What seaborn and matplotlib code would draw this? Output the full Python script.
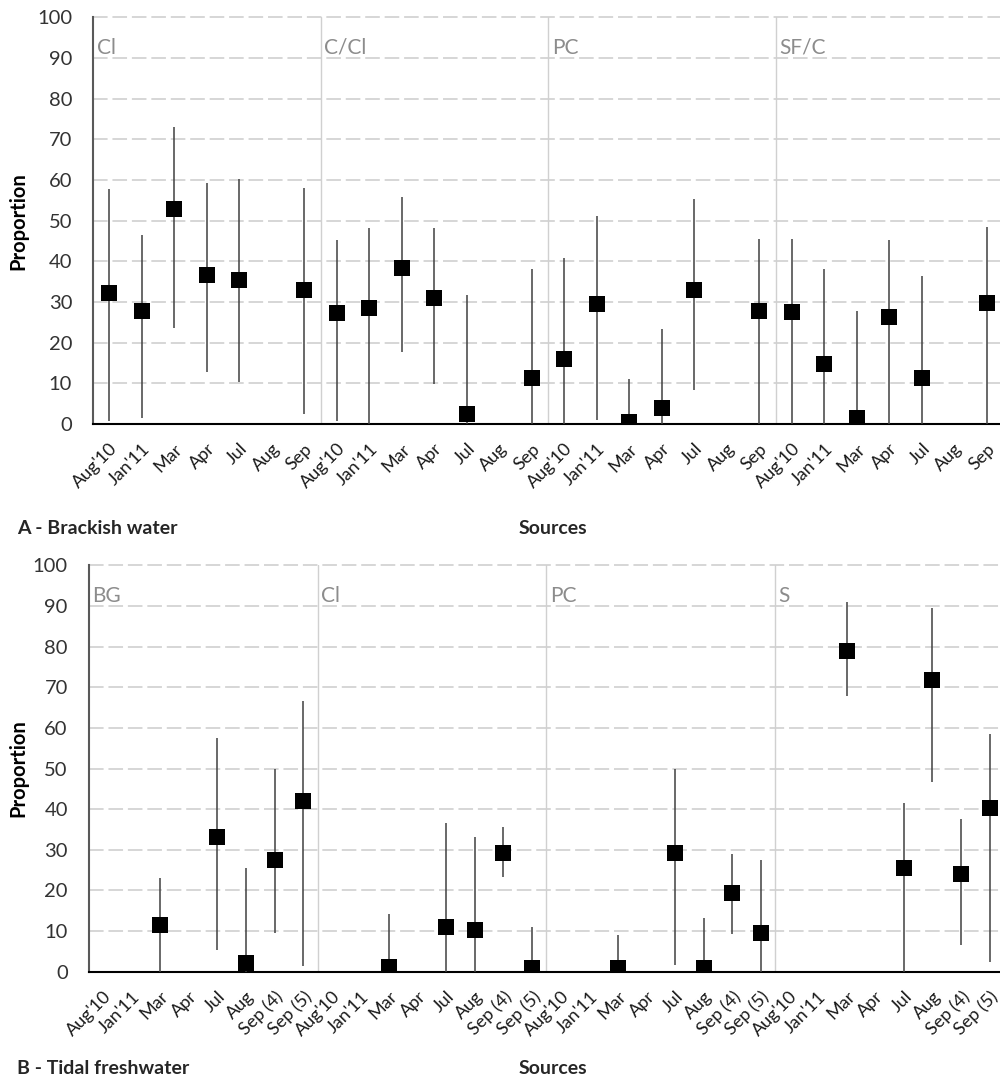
import numpy as np
import pandas as pd
import matplotlib
matplotlib.use("Agg")
import matplotlib.pyplot as plt
import seaborn as sns

sns.set_style("white")
plt.rcParams["font.family"] = ["Lato", "DejaVu Sans"]

nan = np.nan

# ---- Panel A: brackish water ----
months_a = ["Aug'10", "Jan'11", "Mar", "Apr", "Jul", "Aug", "Sep"]
sources_a = ["Cl", "C/Cl", "PC", "SF/C"]

mean_a_cl = [32.3, 27.9, 52.8, 36.6, 35.4, nan, 33.0]
low_a_cl = [0.7, 1.4, 23.5, 12.7, 10.4, nan, 2.5]
high_a_cl = [57.8, 46.4, 73.1, 59.3, 60.2, nan, 58.1]

mean_a_ccl = [27.2, 28.4, 38.3, 30.9, 2.4, nan, 11.4]
low_a_ccl = [0.7, 0.0, 17.6, 9.8, 0.0, nan, 0.0]
high_a_ccl = [45.2, 48.2, 55.7, 48.2, 31.8, nan, 38.0]

mean_a_pc = [16.1, 29.4, 0.6, 3.9, 33.0, nan, 27.8]
low_a_pc = [0.0, 1.0, 0.0, 0.0, 8.4, nan, 0.0]
high_a_pc = [40.7, 51.1, 11.1, 23.4, 55.4, nan, 45.5]

mean_a_sfc = [27.5, 14.7, 1.4, 26.4, 11.4, nan, 29.7]
low_a_sfc = [0.0, 0.0, 0.0, 0.0, 0.0, nan, 0.0]
high_a_sfc = [45.5, 38.0, 27.9, 45.2, 36.5, nan, 48.5]

# ---- Panel B: tidal freshwater ----
months_b = ["Aug'10", "Jan'11", "Mar", "Apr", "Jul", "Aug", "Sep (4)", "Sep (5)"]
sources_b = ["BG", "Cl", "PC", "S"]

mean_b_bg = [nan, nan, 11.4, nan, 33.2, 2.1, 27.6, 41.9]
low_b_bg = [nan, nan, 0.0, nan, 5.3, 0.0, 9.4, 1.4]
high_b_bg = [nan, nan, 23.1, nan, 57.6, 25.5, 49.8, 66.6]

mean_b_cl = [nan, nan, 1.2, nan, 11.1, 10.3, 29.1, 0.9]
low_b_cl = [nan, nan, 0.0, nan, 0.0, 0.0, 23.2, 0.0]
high_b_cl = [nan, nan, 14.1, nan, 36.7, 33.1, 35.5, 10.9]

mean_b_pc = [nan, nan, 0.9, nan, 29.1, 0.8, 19.3, 9.6]
low_b_pc = [nan, nan, 0.0, nan, 1.6, 0.0, 9.2, 0.0]
high_b_pc = [nan, nan, 9.0, nan, 49.9, 13.3, 28.9, 27.6]

mean_b_s = [nan, nan, 78.8, nan, 25.4, 71.9, 24.0, 40.4]
low_b_s = [nan, nan, 67.9, nan, 0.0, 46.8, 6.6, 2.3]
high_b_s = [nan, nan, 90.9, nan, 41.4, 89.4, 37.5, 58.5]

y_ticks = [0, 10, 20, 30, 40, 50, 60, 70, 80, 90, 100]


def build_frame(sources, months, means, lows, highs):
    rows = []
    n = len(months)
    for g, src in enumerate(sources):
        for k, m in enumerate(months):
            rows.append({"source": src, "month": m, "pos": g * n + k + 0.5,
                         "value": means[g][k], "low": lows[g][k], "high": highs[g][k]})
    return pd.DataFrame(rows)


df_a = build_frame(sources_a, months_a,
                   [mean_a_cl, mean_a_ccl, mean_a_pc, mean_a_sfc],
                   [low_a_cl, low_a_ccl, low_a_pc, low_a_sfc],
                   [high_a_cl, high_a_ccl, high_a_pc, high_a_sfc])
df_b = build_frame(sources_b, months_b,
                   [mean_b_bg, mean_b_cl, mean_b_pc, mean_b_s],
                   [low_b_bg, low_b_cl, low_b_pc, low_b_s],
                   [high_b_bg, high_b_cl, high_b_pc, high_b_s])

fig = plt.figure(figsize=(10, 10.88), dpi=100)
ax_a = fig.add_axes([0.093, 0.6103, 0.910, 0.3738])
ax_b = fig.add_axes([0.0887, 0.1069, 0.9153, 0.3735])


def draw_panel(ax, df, sources, months):
    n = len(months)
    total = n * len(sources)
    ok = df.dropna(subset=["value"])
    ax.vlines(ok["pos"], ok["low"], ok["high"], color="#404040", lw=1.1, zorder=3)
    sns.scatterplot(data=ok, x="pos", y="value", marker="s", color="black",
                    s=120, linewidth=0, ax=ax, zorder=4, legend=False)
    ax.set_xlim(0, total)
    ax.set_ylim(0, 100)
    ax.set_yticks(y_ticks)
    ax.yaxis.grid(True, color="#d6d6d6", lw=1.4, linestyle=(0, (7.5, 2.5)))
    ax.xaxis.grid(False)
    for gl in ax.get_ygridlines():
        gl.set_clip_on(False)
    ax.set_axisbelow(True)
    for g in range(1, len(sources)):
        ax.axvline(g * n, color="#d0d0d0", lw=1.0, zorder=1)
    for g, src in enumerate(sources):
        ax.text(g * n + 0.12, 92.5, src, color="#8c8c8c", fontsize=15,
                va="center", ha="left")
    ax.set_xticks(df["pos"])
    ax.set_xticklabels(list(months) * len(sources), rotation=45, ha="right",
                       rotation_mode="anchor", fontsize=13, color="#1a1a1a")
    ax.tick_params(axis="x", which="major", length=0, pad=12)
    ax.set_xticks([g * n for g in range(len(sources) + 1)], minor=True)
    ax.tick_params(axis="x", which="minor", length=6, width=1.2,
                   color="black", direction="out")
    ax.tick_params(axis="y", length=0, pad=15, labelsize=14.5, labelcolor="#333333")
    ax.set_xlabel("")
    ax.set_ylabel("Proportion", fontsize=14.5, fontweight="bold", color="black")
    for side in ("top", "right"):
        ax.spines[side].set_visible(False)
    ax.spines["left"].set_color("#595959")
    ax.spines["left"].set_linewidth(1.5)
    ax.spines["bottom"].set_color("black")
    ax.spines["bottom"].set_linewidth(1.5)


draw_panel(ax_a, df_a, sources_a, months_a)
draw_panel(ax_b, df_b, sources_b, months_b)
ax_a.yaxis.set_label_coords(-0.0714, 0.5)
ax_b.yaxis.set_label_coords(-0.066, 0.5)

H = 1088.0
fig.text(17 / 1000, 1 - 528 / H, "A - Brackish water", fontsize=14,
         fontweight="bold", ha="left", va="center")
fig.text(553 / 1000, 1 - 528 / H, "Sources", fontsize=14,
         fontweight="bold", ha="center", va="center")
fig.text(17 / 1000, 1 - 1068 / H, "B - Tidal freshwater", fontsize=14,
         fontweight="bold", ha="left", va="center")
fig.text(553 / 1000, 1 - 1068 / H, "Sources", fontsize=14,
         fontweight="bold", ha="center", va="center")

fig.savefig("out.png", dpi=100, facecolor="white")
